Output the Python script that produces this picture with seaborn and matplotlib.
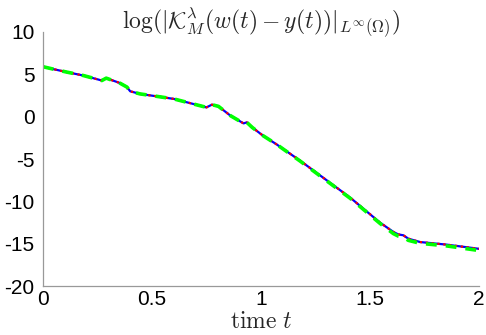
import numpy as np
import pandas as pd
import matplotlib
matplotlib.use("Agg")
import matplotlib.pyplot as plt
import seaborn as sns

# tempo e log da norma
t = [0.0, 0.05, 0.11, 0.185, 0.23, 0.27, 0.29, 0.35, 0.385, 0.40, 0.445, 0.52, 0.60,
     0.66, 0.75, 0.775, 0.805, 0.86, 0.92, 0.935, 0.96, 1.01, 1.07, 1.18, 1.41, 1.546,
     1.607, 1.63, 1.653, 1.676, 1.73, 1.85, 2.0]
log_blue = [5.9, 5.6, 5.26, 4.86, 4.55, 4.27, 4.55, 4.0, 3.5, 3.0, 2.69, 2.41, 2.1,
            1.7, 1.1, 1.42, 1.22, 0.12, -0.79, -0.67, -1.27, -2.25, -3.24, -5.2, -9.57, -12.5,
            -13.6, -13.9, -14.0, -14.4, -14.8, -15.1, -15.6]
log_red = log_blue
log_green = [5.9, 5.6, 5.26, 4.86, 4.55, 4.27, 4.55, 4.0, 3.5, 3.0, 2.69, 2.41, 2.1,
             1.7, 1.1, 1.42, 1.22, 0.12, -0.79, -0.67, -1.27, -2.25, -3.24, -5.25, -9.65, -12.6,
             -13.8, -14.1, -14.2, -14.6, -14.95, -15.25, -15.8]

df = pd.DataFrame({"t": t, "blue": log_blue, "red": log_red, "green": log_green})

sns.set_style("white")
plt.rcParams["mathtext.fontset"] = "cm"
plt.rcParams["font.family"] = ["Liberation Sans", "DejaVu Sans"]

fig = plt.figure(figsize=(4.86, 3.35), dpi=100)
ax = fig.add_axes([0.0885, 0.146, 0.897, 0.7585])

sns.lineplot(data=df, x="t", y="blue", ax=ax, color="#0000ff", lw=1.6)
sns.lineplot(data=df, x="t", y="red", ax=ax, color="#ff0000", lw=1.6, linestyle=":")
sns.lineplot(data=df, x="t", y="green", ax=ax, color="#00ff00", lw=2.6, linestyle=(0, (3, 2.5)))

ax.set_xlim(0, 2)
ax.set_ylim(-20, 10)
ax.set_xticks([0, 0.5, 1, 1.5, 2])
ax.set_xticklabels(["0", "0.5", "1", "1.5", "2"])
ax.set_yticks([-20, -15, -10, -5, 0, 5, 10])
ax.set_yticklabels(["-20", "-15", "-10", "-5", "0", "5", "10"])

sns.despine(ax=ax)
for s in ["left", "bottom"]:
    ax.spines[s].set_color("#999999")
    ax.spines[s].set_linewidth(0.9)
ax.tick_params(direction="in", length=4, width=0.8, color="#999999",
               labelsize=15, labelcolor="black")
ax.tick_params(axis="x", pad=3)
ax.tick_params(axis="y", pad=6)

ax.set_xlabel(r"$\mathrm{time}\ t$", fontsize=17, labelpad=1)
ax.set_ylabel("")
ax.set_title(r"$\log(|\mathcal{K}_M^{\lambda}(w(t)-y(t))|_{L^{\infty}(\Omega)})$",
             fontsize=17, pad=2)

fig.savefig("out.png", dpi=100)
